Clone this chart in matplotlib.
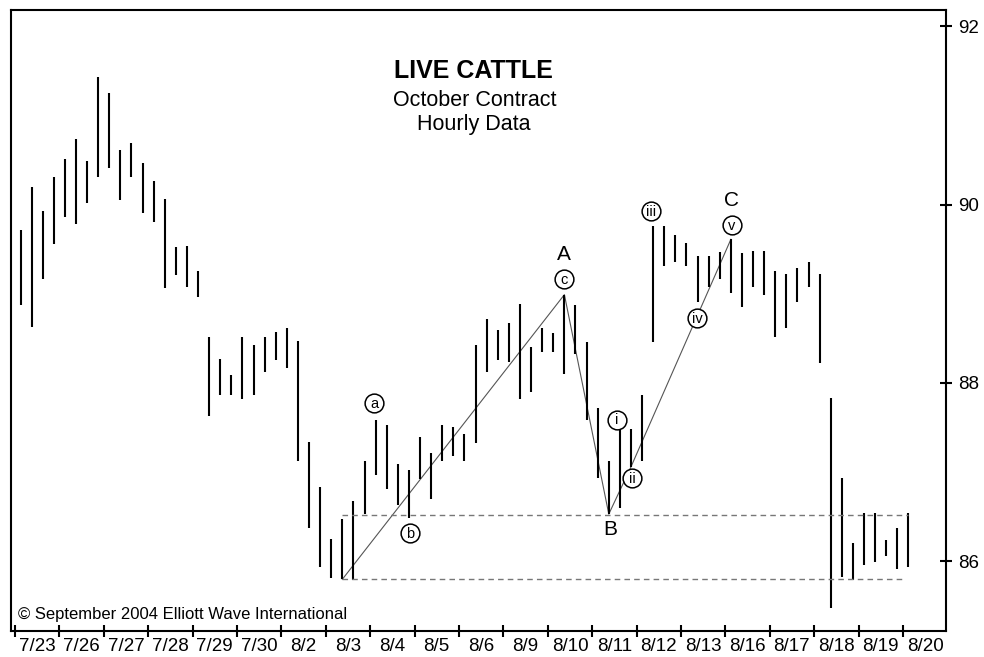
import matplotlib

matplotlib.use("Agg")
import matplotlib.pyplot as plt

plt.rcParams["font.family"] = ["Liberation Sans", "DejaVu Sans"]

# hourly high / low, four bars per trading day
highs = [
    89.71, 90.20, 89.93, 90.31, 90.51, 90.73, 90.49, 91.43, 91.25, 90.61,
    90.69, 90.46, 90.26, 90.06, 89.52, 89.54, 89.26, 88.52, 88.27, 88.09,
    88.52, 88.42, 88.52, 88.57, 88.62, 88.47, 87.34, 86.83, 86.25, 86.48,
    86.68, 87.12, 87.58, 87.53, 87.09, 87.03, 87.39, 87.22, 87.53, 87.51,
    87.43, 88.42, 88.72, 88.59, 88.67, 88.88, 88.40, 88.62, 88.56, 88.99,
    88.87, 88.46, 87.72, 87.12, 87.53, 87.48, 87.87, 89.76, 89.76, 89.66,
    89.57, 89.42, 89.42, 89.47, 89.61, 89.46, 89.48, 89.48, 89.26, 89.22,
    89.29, 89.36, 89.22, 87.83, 86.93, 86.21, 86.54, 86.54, 86.24, 86.38,
    86.54,
]
lows = [
    88.87, 88.63, 89.16, 89.56, 89.86, 89.78, 90.02, 90.31, 90.41, 90.05,
    90.31, 89.90, 89.80, 89.06, 89.21, 89.08, 88.96, 87.63, 87.87, 87.87,
    87.82, 87.87, 88.12, 88.26, 88.17, 87.12, 86.38, 85.94, 85.81, 85.80,
    85.79, 86.53, 86.97, 86.81, 86.63, 86.49, 86.92, 86.70, 87.12, 87.18,
    87.12, 87.33, 88.12, 88.26, 88.24, 87.82, 87.90, 88.35, 88.35, 88.10,
    88.33, 87.58, 86.93, 86.53, 86.60, 87.06, 87.12, 88.46, 89.31, 89.36,
    89.31, 88.91, 89.07, 89.16, 89.01, 88.85, 89.07, 88.99, 88.52, 88.62,
    88.91, 89.07, 88.22, 85.48, 85.83, 85.79, 85.96, 85.99, 86.06, 85.91,
    85.94,
]
days = ["7/23", "7/26", "7/27", "7/28", "7/29", "7/30", "8/2", "8/3", "8/4",
        "8/5", "8/6", "8/9", "8/10", "8/11", "8/12", "8/13", "8/16", "8/17",
        "8/18", "8/19", "8/20"]
bars_per_day = 4

# wave pivots: (bar index, price)
wave_x = [29, 49, 53, 55, 64]
wave_y = [85.80, 88.99, 86.53, 87.06, 89.61]

# support / resistance levels
upper_level = 86.52
lower_level = 85.80

# circled wave labels: (label, bar position, price)
circled = [("a", 31.85, 87.77), ("b", 35.1, 86.32), ("c", 49.0, 89.16),
           ("i", 53.75, 87.59), ("ii", 55.1, 86.93), ("iii", 56.8, 89.93),
           ("iv", 60.95, 88.73), ("v", 64.1, 89.77)]
letters = [("A", 49.0, 89.44), ("B", 53.1, 86.36), ("C", 64.1, 90.05)]

fig = plt.figure(figsize=(9.84, 6.57), dpi=100)
ax = fig.add_axes([11 / 984, 26 / 657, 935 / 984, 621 / 657])

x = list(range(len(highs)))
ax.vlines(x, lows, highs, color="black", linewidth=1.5, capstyle="butt")

# dashed range lines
ax.hlines(upper_level, 29, 80, color="#777777", linewidth=1, linestyles=(0, (4, 3)))
ax.hlines(lower_level, 29, 79.5, color="#777777", linewidth=1, linestyles=(0, (4, 3)))

# wave count line
ax.plot(wave_x, wave_y, color="#555555", linewidth=0.8, zorder=1)

for lab, xi, yi in circled:
    ax.plot(xi, yi, "o", markersize=13.5, markerfacecolor="white",
            markeredgecolor="black", markeredgewidth=1.1, zorder=4)
    ax.text(xi, yi - 0.01, lab, ha="center", va="center", fontsize=10.5, zorder=5)
for lab, xi, yi in letters:
    ax.text(xi, yi, lab, ha="center", va="center", fontsize=15, zorder=5)

ax.set_xlim(-0.856, 83.38)
ax.set_ylim(85.22, 92.18)

# y axis on the right
ax.yaxis.tick_right()
ax.set_yticks([86, 88, 90, 92])
ax.tick_params(axis="y", direction="inout", length=9, width=1.5,
               labelsize=13.5, pad=4)

# day boundaries as major ticks, labels centred between them
ax.set_xticks([-0.5 + bars_per_day * k for k in range(len(days))])
ax.set_xticklabels([])
ax.set_xticks([1.5 + bars_per_day * k for k in range(len(days))], minor=True)
ax.set_xticklabels(days, minor=True)
ax.tick_params(axis="x", which="major", direction="inout", length=9, width=1.5)
ax.tick_params(axis="x", which="minor", length=0, labelsize=13.5, pad=5)

for s in ax.spines.values():
    s.set_linewidth(1.5)

fig.text(473 / 984, 1 - 78 / 657, "LIVE CATTLE", ha="center", va="baseline",
         fontsize=18, fontweight="bold")
fig.text(475 / 984, 1 - 106 / 657, "October Contract", ha="center",
         va="baseline", fontsize=15.5)
fig.text(474 / 984, 1 - 130 / 657, "Hourly Data", ha="center",
         va="baseline", fontsize=15.5)
fig.text(18 / 984, 1 - 619 / 657, "\u00a9 September 2004 Elliott Wave International",
         ha="left", va="baseline", fontsize=12)

fig.savefig("out.png", dpi=100)
